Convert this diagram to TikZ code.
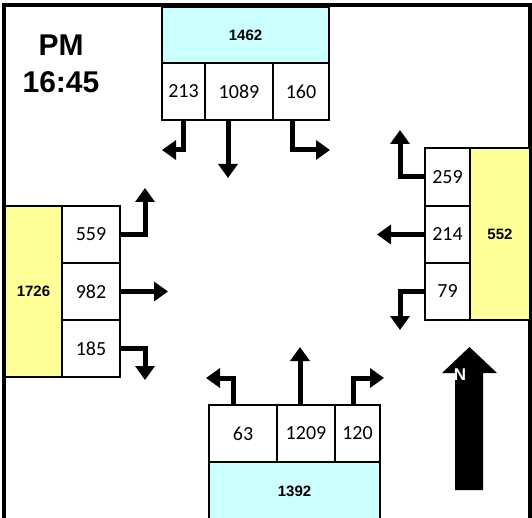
\documentclass[tikz,border=0pt]{standalone}
\usepackage{fontspec}
\setmainfont{Carlito}
\newfontfamily\headfont{Liberation Sans}
\usepackage{xcolor}
\usepackage{tikz}
\usetikzlibrary{arrows.meta}
\definecolor{apCyan}{RGB}{204, 255, 255}
\definecolor{apYellow}{RGB}{255, 255, 153}

\begin{document}
\begin{tikzpicture}[
    x=1pt, y=-1pt,
    lanebox/.style={
        rectangle, draw=black, line width=1.8pt, fill=white,
        inner sep=0pt, font=\fontsize{20}{22}\selectfont
    },
    totalbox/.style={
        rectangle, draw=black, line width=1.8pt,
        inner sep=0pt, font=\headfont\bfseries\fontsize{15}{17}\selectfont
    },
    turnarrow/.style={-{Triangle[length=14pt, width=19pt]}, line width=5pt}
]
\useasboundingbox (0,0) rectangle (532,518);

% frame
\draw[line width=4pt] (4,520) -- (4,5) -- (530,5) -- (530,520);

% time label
\node[font=\headfont\bfseries\fontsize{30}{32}\selectfont] (pm) at (61,45) {PM};
\node[font=\headfont\bfseries\fontsize{30}{32}\selectfont] (time) at (61,82) {16:45};

% north approach
\node[totalbox, fill=apCyan, minimum width=167pt, minimum height=56pt] (tTot) at (245.5,35) {1462};
\node[lanebox, minimum width=43pt, minimum height=57pt] (tL) at (183.5,91.5) {213};
\node[lanebox, minimum width=68pt, minimum height=57pt] (tT) at (239,91.5) {1089};
\node[lanebox, minimum width=56pt, minimum height=57pt] (tR) at (301,91.5) {160};

% west approach
\node[totalbox, fill=apYellow, minimum width=57pt, minimum height=171pt] (lTot) at (33.5,291.5) {1726};
\node[lanebox, minimum width=58pt, minimum height=57pt] (lL) at (91,234.5) {559};
\node[lanebox, minimum width=58pt, minimum height=57pt] (lT) at (91,291.5) {982};
\node[lanebox, minimum width=58pt, minimum height=57pt] (lR) at (91,348.5) {185};

% east approach
\node[totalbox, fill=apYellow, minimum width=60pt, minimum height=172pt] (rTot) at (500,234) {552};
\node[lanebox, minimum width=45pt, minimum height=58pt] (rL) at (447.5,177) {259};
\node[lanebox, minimum width=45pt, minimum height=57pt] (rT) at (447.5,234.5) {214};
\node[lanebox, minimum width=45pt, minimum height=57pt] (rR) at (447.5,291.5) {79};

% south approach
\node[totalbox, fill=apCyan, minimum width=171pt, minimum height=58pt] (bTot) at (294.5,491) {1392};
\node[lanebox, minimum width=68pt, minimum height=57pt] (bL) at (243,433.5) {63};
\node[lanebox, minimum width=58pt, minimum height=57pt] (bT) at (306,433.5) {1209};
\node[lanebox, minimum width=45pt, minimum height=57pt] (bR) at (357.5,433.5) {120};

% arrow ends
\coordinate (etL) at (162,150);
\coordinate (etT) at (228,178);
\coordinate (etR) at (330,150);
\coordinate (elL) at (145,188);
\coordinate (elT) at (168,291.5);
\coordinate (elR) at (145,380);
\coordinate (erL) at (400,130);
\coordinate (erT) at (377,234.5);
\coordinate (erR) at (400,330);
\coordinate (ebL) at (206,378);
\coordinate (ebT) at (300,347);
\coordinate (ebR) at (384,378);

\draw[turnarrow] (tL.south) |- (etL);
\draw[turnarrow] (tT.south -| etT) -- (etT);
\draw[turnarrow] (tR.south -| 292,0) |- (etR);
\draw[turnarrow] (lL.east) -| (elL);
\draw[turnarrow] (lT.east) -- (elT);
\draw[turnarrow] (lR.east) -| (elR);
\draw[turnarrow] (rL.west) -| (erL);
\draw[turnarrow] (rT.west) -- (erT);
\draw[turnarrow] (rR.west) -| (erR);
\draw[turnarrow] (bL.north -| 233,0) |- (ebL);
\draw[turnarrow] (bT.north -| ebT) -- (ebT);
\draw[turnarrow] (bR.north -| 353,0) |- (ebR);

% north arrow
\fill (455,490) -- (455,373) -- (442,373) -- (469.5,347) -- (497,373) -- (483,373) -- (483,490) -- cycle;
\node[font=\headfont\bfseries\fontsize{17}{18}\selectfont, text=white] (north) at (460,375) {N};
\end{tikzpicture}
\end{document}
